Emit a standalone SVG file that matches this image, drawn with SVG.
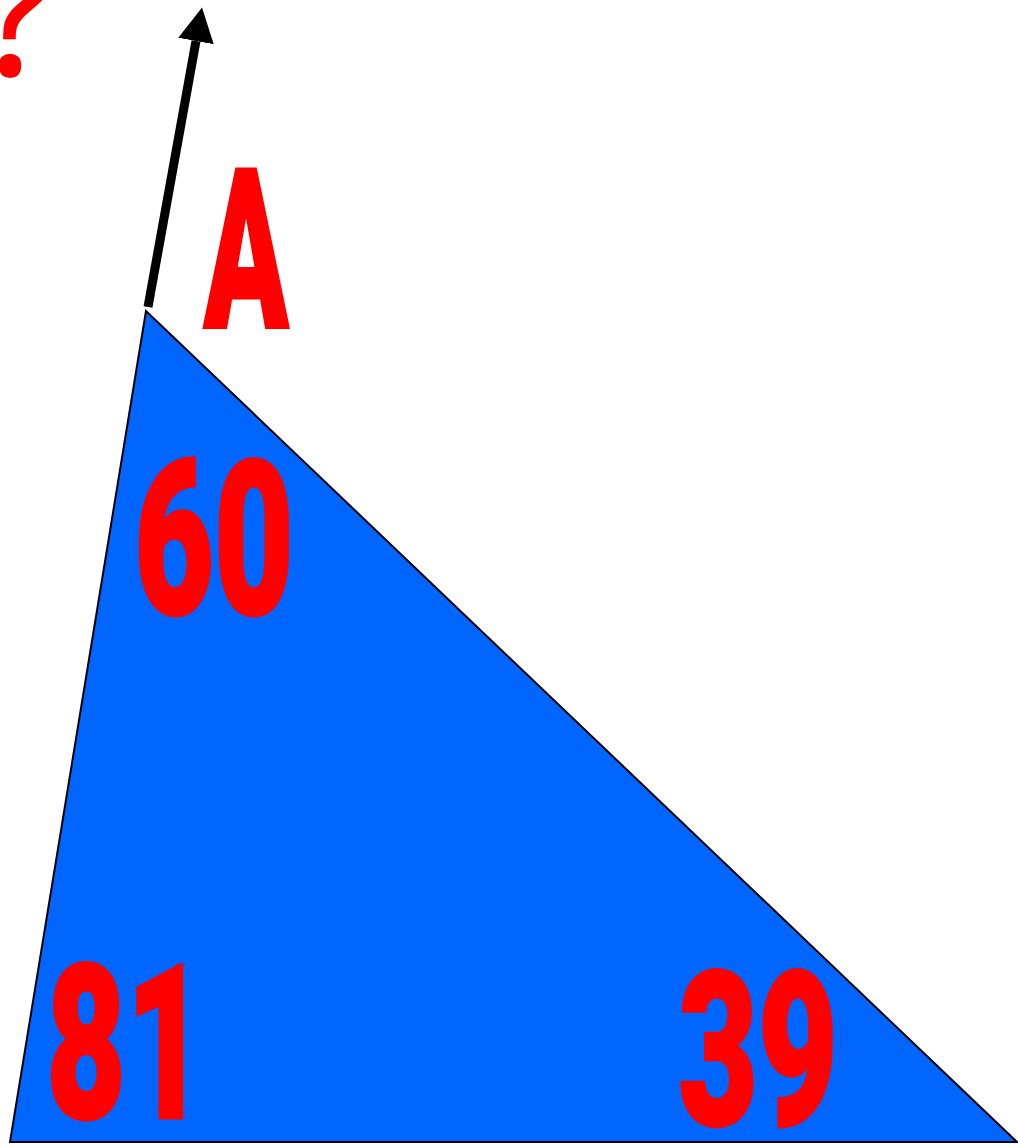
<svg xmlns="http://www.w3.org/2000/svg" width="1018" height="1144" viewBox="0 0 1018 1144">
  <style>
    .lbl { font-family: Roboto, "Liberation Sans", sans-serif; font-weight: 900; fill: #ff0000; stroke: #ff0000; stroke-width: 3; text-anchor: middle; }
  </style>
  <defs>
    <marker id="arrow" markerUnits="userSpaceOnUse" markerWidth="40" markerHeight="40" refX="0" refY="18" orient="auto" viewBox="0 0 40 40">
      <path d="M0,0 L34,18 L0,36 Z" fill="#000"/>
    </marker>
  </defs>
  <rect width="1018" height="1144" fill="#fff"/>
  <g id="triangle">
    <polygon points="146,311 10,1142 1017,1142" fill="#0066ff" stroke="#000" stroke-width="2"/>
  </g>
  <g id="connectors">
    <line x1="148" y1="307" x2="196" y2="41" stroke="#000" stroke-width="9" marker-end="url(#arrow)"/>
  </g>
  <g id="question">
    <text x="-22" y="75" font-family="Noto Sans, sans-serif" font-size="180" fill="#ff0000">?</text>
  </g>
  <g id="label-A">
    <text class="lbl" transform="translate(246,328) scale(0.56,1)" font-size="222">A</text>
  </g>
  <g id="label-60">
    <text class="lbl" transform="translate(214,614) scale(0.64,1)" font-size="215">60</text>
  </g>
  <g id="label-81">
    <text class="lbl" transform="translate(126,1118) scale(0.64,1)" font-size="215">81</text>
  </g>
  <g id="label-39">
    <text class="lbl" transform="translate(758,1125) scale(0.64,1)" font-size="215">39</text>
  </g>
</svg>
